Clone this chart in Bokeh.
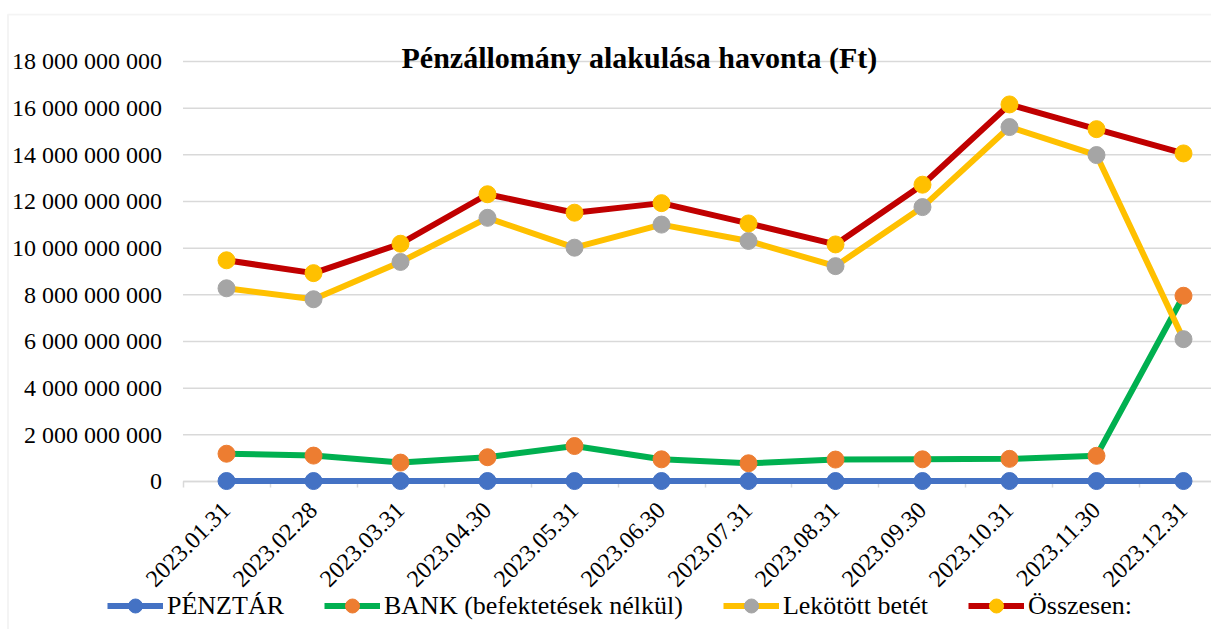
import math
from bokeh.plotting import figure
from bokeh.models import (Range1d, FixedTicker, Legend, LegendItem, BoxAnnotation, Label)
from bokeh.embed import file_html
from bokeh.resources import INLINE

months = ["2023.01.31", "2023.02.28", "2023.03.31", "2023.04.30", "2023.05.31", "2023.06.30",
          "2023.07.31", "2023.08.31", "2023.09.30", "2023.10.31", "2023.11.30", "2023.12.31"]

penztar = [20e6, 20e6, 20e6, 20e6, 20e6, 20e6, 20e6, 20e6, 20e6, 20e6, 20e6, 20e6]
bank = [1.19e9, 1.11e9, 0.81e9, 1.04e9, 1.52e9, 0.95e9, 0.78e9, 0.94e9, 0.95e9, 0.97e9, 1.10e9, 7.96e9]
lekotott = [8.28e9, 7.81e9, 9.41e9, 11.30e9, 10.02e9, 11.01e9, 10.31e9, 9.23e9, 11.76e9, 15.19e9, 13.99e9, 6.10e9]
osszesen = [9.48e9, 8.93e9, 10.19e9, 12.31e9, 11.52e9, 11.93e9, 11.06e9, 10.16e9, 12.72e9, 16.16e9, 15.10e9, 14.06e9]

series_names = ["PÉNZTÁR", "BANK (befektetések nélkül)", "Lekötött betét", "Összesen:"]
line_colors = ["#4472C4", "#00B050", "#FFC000", "#C00000"]
marker_colors = ["#4472C4", "#ED7D31", "#A5A5A5", "#FFC000"]

y_ticks = [0, 2e9, 4e9, 6e9, 8e9, 10e9, 12e9, 14e9, 16e9, 18e9]
y_tick_labels = ["0", "2 000 000 000", "4 000 000 000", "6 000 000 000", "8 000 000 000",
                 "10 000 000 000", "12 000 000 000", "14 000 000 000", "16 000 000 000",
                 "18 000 000 000"]

title_text = "Pénzállomány alakulása havonta (Ft)"
FONT = "Liberation Serif"
GRID = "#D9D9D9"

x = list(range(len(months)))
n = len(months)
cat_lo, cat_hi = -0.5, n - 0.5

# frame fills the whole figure; axes are pinned inside it
W, H, TOP = 1211, 629, 13
X0, X1 = -2.598, 11.322
Y0, Y1 = -6.343e9, 20.057e9
px_x = (X1 - X0) / W
px_y = (Y1 - Y0) / (H - TOP)

p = figure(width=W, height=H, x_range=Range1d(X0, X1), y_range=Range1d(Y0, Y1),
           output_backend="svg", toolbar_location=None,
           min_border_left=0, min_border_top=TOP, min_border_right=0, min_border_bottom=0)
p.outline_line_color = None
p.background_fill_color = "white"
p.border_fill_color = "white"
p.grid.grid_line_color = None

# chart area border (left and top edges visible)
p.add_layout(BoxAnnotation(left=X0 + 7.5 * px_x, top=Y1 - 1.0 * px_y, right=X1 + 1, bottom=Y0 - 1e9,
                           fill_alpha=0, line_color=GRID, line_width=2))

# horizontal gridlines across the category area only
p.segment(x0=[cat_lo] * len(y_ticks), x1=[cat_hi] * len(y_ticks), y0=y_ticks, y1=y_ticks,
          line_color=GRID, line_width=1.5)

# y axis
p.yaxis.fixed_location = cat_lo
p.yaxis.ticker = FixedTicker(ticks=y_ticks)
p.yaxis.major_label_overrides = {t: l for t, l in zip(y_ticks, y_tick_labels)}
p.yaxis.axis_line_color = None
p.yaxis.major_tick_line_color = None
p.yaxis.minor_tick_line_color = None
p.yaxis.major_tick_out = 0
p.yaxis.major_tick_in = 0
p.yaxis.major_label_standoff = 21
p.yaxis.major_label_text_font = FONT
p.yaxis.major_label_text_font_size = "24px"
p.yaxis.major_label_text_color = "black"

# x axis
p.xaxis.fixed_location = 0
p.xaxis.bounds = (cat_lo, cat_hi)
p.xaxis.level = "underlay"
p.xaxis.ticker = FixedTicker(ticks=x, minor_ticks=[i - 0.5 for i in range(n + 1)])
p.xaxis.major_label_overrides = {i: m for i, m in enumerate(months)}
p.xaxis.major_label_orientation = math.pi / 4
p.xaxis.major_label_text_font = FONT
p.xaxis.major_label_text_font_size = "24px"
p.xaxis.major_label_text_color = "black"
p.xaxis.major_tick_line_color = None
p.xaxis.major_tick_out = 0
p.xaxis.major_tick_in = 0
p.xaxis.minor_tick_in = 0
p.xaxis.minor_tick_out = 6
p.xaxis.minor_tick_line_color = GRID
p.xaxis.minor_tick_line_width = 1.5
p.xaxis.axis_line_color = GRID
p.xaxis.axis_line_width = 1.5
p.xaxis.major_label_standoff = 19

items = []
for name, vals, lc, mc in zip(series_names, [penztar, bank, lekotott, osszesen], line_colors, marker_colors):
    r1 = p.line(x, vals, line_color=lc, line_width=6, line_join="round")
    r2 = p.scatter(x, vals, size=17, fill_color=mc, line_color=mc)
    items.append(LegendItem(label=name, renderers=[r1, r2]))

legend = Legend(items=items, orientation="horizontal", location=(107, 6),
                label_text_font=FONT, label_text_font_size="26px", label_text_color="black",
                glyph_width=56, glyph_height=35, label_standoff=4, spacing=40,
                padding=0, margin=0, border_line_color=None, background_fill_alpha=0)
p.add_layout(legend, "center")

# chart title, placed like the spreadsheet title (overlapping the top of the plot area)
p.add_layout(Label(x=X0 + 401 * px_x, y=Y1 - (57 - TOP) * px_y, text=title_text,
                   text_font=FONT, text_font_size="30px", text_font_style="bold",
                   text_color="black", text_align="left", text_baseline="alphabetic"))

open("out.html", "w").write(file_html(p, INLINE))
